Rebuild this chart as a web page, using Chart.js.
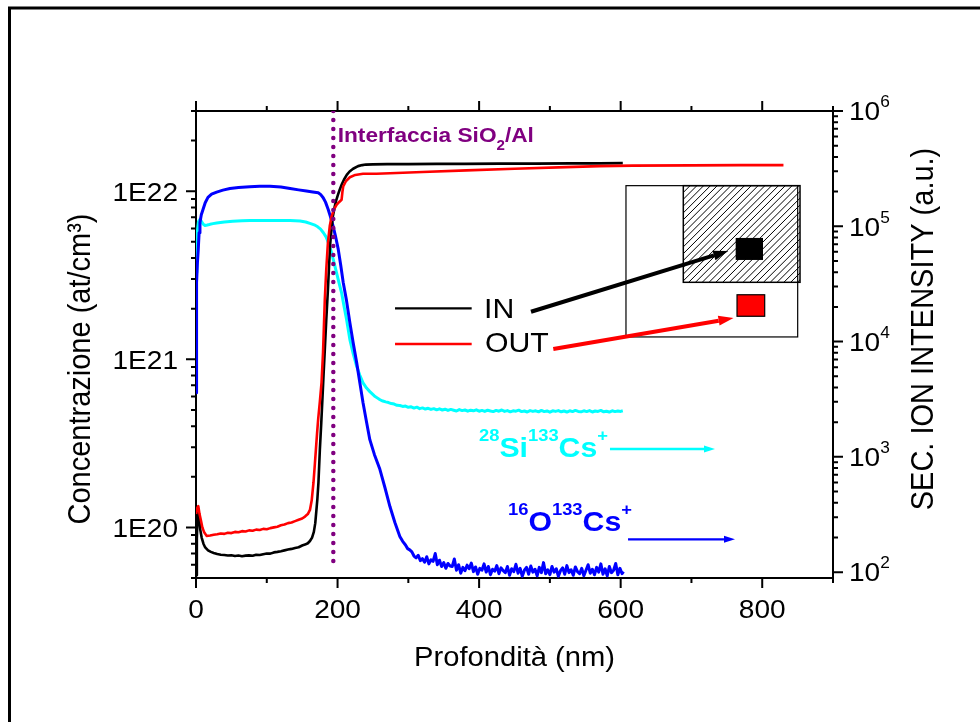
<!DOCTYPE html>
<html lang="it">
<head>
<meta charset="utf-8">
<title>Profilo SIMS – interfaccia SiO2/Al</title>
<script src="https://cdn.jsdelivr.net/npm/chart.js@4.4.1/dist/chart.umd.min.js"></script>
<style>
  html, body { margin: 0; padding: 0; background: #fff; overflow: hidden; }
  canvas { display: block; }
</style>
</head>
<body>
<canvas id="sims" width="980" height="722"></canvas>
<script>
// ---------- depth profiles ----------
// IN: concentration (at/cm3) vs depth (nm)
const inDepth = [
  0.3, 1.2, 2.2, 3.2, 4.5, 6, 8, 10.5, 13, 17,
  21, 25, 30, 35, 40, 45, 50, 55, 60, 65,
  70, 75, 80, 85, 90, 95, 100, 105, 110, 115,
  120, 125, 130, 135, 140, 145, 150, 154, 158, 161,
  164, 166.5, 168.5, 170, 171.5, 173, 175, 177, 178.6, 180.3,
  182, 184, 186.4, 188, 189.5, 191.5, 193.4, 196, 198, 200.5,
  203, 206, 209, 213, 217, 222, 229, 235, 240, 250,
  270, 300, 340, 380, 429, 480, 530, 570, 603];
const inConc = [
  5.2e19, 8.6e19, 1.16e20, 1.26e20, 1.12e20, 9.7e19, 8.7e19, 8.0e19, 7.6e19, 7.3e19,
  7.15e19, 7.05e19, 6.95e19, 6.88e19, 6.85e19, 6.8e19, 6.83e19, 6.76e19, 6.8e19, 6.74e19,
  6.79e19, 6.82e19, 6.78e19, 6.88e19, 6.85e19, 6.93e19, 7.0e19, 6.98e19, 7.1e19, 7.15e19,
  7.22e19, 7.3e19, 7.38e19, 7.45e19, 7.55e19, 7.62e19, 7.8e19, 7.9e19, 8.05e19, 8.3e19,
  8.7e19, 9.4e19, 1.06e20, 1.25e20, 1.48e20, 1.85e20, 2.9e20, 4.2e20, 5.8e20, 8.2e20,
  1.14e21, 1.7e21, 2.6e21, 3.6e21, 4.8e21, 6.0e21, 7.1e21, 8.1e21, 8.8e21, 9.5e21,
  1.02e22, 1.1e22, 1.17e22, 1.25e22, 1.31e22, 1.36e22, 1.41e22, 1.43e22, 1.44e22, 1.445e22,
  1.45e22, 1.45e22, 1.455e22, 1.455e22, 1.46e22, 1.46e22, 1.465e22, 1.465e22, 1.47e22];

// OUT: concentration (at/cm3) vs depth (nm)
const outDepth = [
  0.2, 1.5, 3.2, 5, 7, 9, 11.3, 15, 20, 25,
  30, 35, 40, 45, 50, 55, 60, 65, 70, 75,
  80, 85, 90, 95, 100, 105, 110, 115, 120, 125,
  130, 135, 140, 145, 150, 154, 158, 161, 163.5, 166,
  168, 169.4, 171, 172.6, 175, 177.4, 179.5, 182, 184, 186.4,
  189, 191.6, 195, 198.6, 202, 205.7, 207, 208, 212, 217.4,
  225, 236, 255, 274, 320, 382, 450, 523, 570, 617,
  700, 770, 830];
const outConc = [
  1.2e20, 1.3e20, 1.34e20, 1.2e20, 1.1e20, 1.0e20, 9.4e19, 8.9e19, 8.95e19, 9.05e19,
  9.1e19, 9.2e19, 9.15e19, 9.3e19, 9.25e19, 9.4e19, 9.35e19, 9.5e19, 9.45e19, 9.6e19,
  9.55e19, 9.7e19, 9.65e19, 9.8e19, 9.75e19, 9.9e19, 1.0e20, 1.01e20, 1.03e20, 1.04e20,
  1.06e20, 1.07e20, 1.09e20, 1.11e20, 1.13e20, 1.16e20, 1.2e20, 1.27e20, 1.45e20, 1.85e20,
  2.4e20, 2.9e20, 3.6e20, 4.4e20, 5.6e20, 7.3e20, 1.1e21, 2.27e21, 3.4e21, 4.95e21,
  6.2e21, 7.1e21, 7.8e21, 8.3e21, 8.6e21, 8.9e21, 1.0e22, 1.07e22, 1.15e22, 1.21e22,
  1.25e22, 1.27e22, 1.27e22, 1.28e22, 1.3e22, 1.33e22, 1.36e22, 1.39e22, 1.41e22, 1.42e22,
  1.425e22, 1.43e22, 1.43e22];

// 28Si133Cs+ secondary ion counts vs depth (nm)
const siDepth = [
  0.2, 0.8, 1.4, 2.3, 3.5, 5.6, 7, 8.5, 10.5, 12.7,
  16, 19.8, 24, 29.2, 40, 52, 65, 76, 90, 105,
  120, 133, 147, 155, 161, 167, 172, 176, 180, 184,
  187, 190.5, 194, 198.6, 202, 205.7, 209, 212.8, 217.4, 222,
  227, 231.5, 236, 241, 245.6, 252, 256, 260, 264, 268,
  272, 276, 280, 284, 288, 292, 296, 300, 304, 308,
  312, 316, 320, 324, 328, 332, 336, 340, 344, 348,
  352, 356, 360, 364, 368, 372, 376, 380, 384, 388,
  392, 396, 400, 404, 408, 412, 416, 420, 424, 428,
  432, 436, 440, 444, 448, 452, 456, 460, 464, 468,
  472, 476, 480, 484, 488, 492, 496, 500, 504, 508,
  512, 516, 520, 524, 528, 532, 536, 540, 544, 548,
  552, 556, 560, 564, 568, 572, 576, 580, 584, 588,
  592, 596, 600, 603];
const siCounts = [
  39700, 60000, 76900, 95000, 110000, 115000, 112000, 108000, 104000, 101600,
  102500, 104000, 105500, 107000, 109000, 110500, 111500, 112000, 112500, 112000,
  112500, 112000, 111000, 109000, 106000, 103000, 99000, 94500, 87900, 80500,
  71900, 62000, 51500, 39500, 32500, 26500, 20500, 15500, 10400, 7900,
  6100, 5100, 4380, 3950, 3680, 3380, 3250, 3130, 3050, 3000,
  2960, 2900, 2870, 2800, 2790, 2740, 2760, 2690, 2720, 2650,
  2700, 2620, 2660, 2600, 2640, 2580, 2620, 2560, 2610, 2550,
  2590, 2530, 2580, 2540, 2500, 2570, 2520, 2550, 2490, 2540,
  2510, 2560, 2490, 2530, 2480, 2540, 2500, 2470, 2530, 2490,
  2550, 2480, 2520, 2460, 2510, 2490, 2540, 2470, 2500, 2450,
  2520, 2480, 2510, 2460, 2530, 2470, 2500, 2440, 2510, 2480,
  2520, 2460, 2500, 2450, 2510, 2470, 2530, 2480, 2460, 2510,
  2470, 2520, 2450, 2500, 2480, 2530, 2460, 2490, 2450, 2510,
  2470, 2500, 2480, 2510];

// 16O133Cs+ secondary ion counts vs depth (nm)
const oDepth = [
  0.2, 0.6, 1, 2, 3.2, 4.4, 5.6, 7.5, 9.9, 13,
  16.9, 22, 29.2, 38, 48, 60, 76, 90, 104.5, 120,
  133, 145, 156, 165, 172.7, 176, 179.7, 183, 186.8, 190,
  193.8, 197.5, 201, 204.5, 208, 212.5, 217.4, 222, 227, 231.5,
  236, 241, 245.6, 252, 259.8, 267, 274, 281, 288, 292,
  296, 299, 302, 305, 308, 311, 314, 317, 320, 323,
  326, 329, 332, 335, 338, 341, 344, 347, 350, 353,
  356, 359, 362, 365, 368, 371, 374, 377, 380, 383,
  386, 389, 392, 395, 398, 401, 404, 407, 410, 413,
  416, 419, 422, 425, 428, 431, 434, 437, 440, 443,
  446, 449, 452, 455, 458, 461, 464, 467, 470, 473,
  476, 479, 482, 485, 488, 491, 494, 497, 500, 503,
  506, 509, 512, 515, 518, 521, 524, 527, 530, 533,
  536, 539, 542, 545, 548, 551, 554, 557, 560, 563,
  566, 569, 572, 575, 578, 581, 584, 587, 590, 593,
  596, 599, 602, 604];
const oCounts = [
  3600, 12000, 32500, 48000, 63000, 88000, 108000, 126000, 140000, 160000,
  178000, 190000, 198000, 206000, 213000, 217000, 220000, 222000, 223000, 219000,
  213000, 207000, 202000, 198000, 195000, 189000, 177000, 162000, 140000, 121000,
  100000, 80000, 63000, 46000, 32500, 23000, 14600, 9800, 6570, 4400,
  2950, 2000, 1410, 1050, 780, 540, 371, 270, 204, 185,
  172, 160, 156, 150, 138, 133, 140, 126, 131, 122,
  136, 118, 128, 124, 145, 116, 127, 112, 121, 108,
  119, 113, 112, 130, 104, 116, 98, 110, 103, 115,
  107, 120, 101, 111, 96, 108, 104, 118, 100, 112,
  95, 106, 102, 114, 97, 109, 103, 99, 112, 94,
  107, 101, 117, 98, 108, 92, 104, 110, 96, 113,
  100, 106, 93, 110, 99, 121, 97, 105, 95, 112,
  100, 107, 92, 103, 109, 96, 114, 99, 105, 94,
  111, 101, 97, 108, 93, 104, 116, 98, 106, 95,
  110, 100, 118, 96, 107, 93, 112, 99, 104, 119,
  95, 108, 97, 101];

// SiO2/Al interface marker (depth, concentration span)
const interfaceDepth = [194, 194];
const interfaceConc = [3e22, 5.7e19];

// ---------- axes ----------
const depthTicks = [0, 100, 200, 300, 400, 500, 600, 700, 800, 900];
const depthLabels = [0, 200, 400, 600, 800];
const concTicks = [
  5e19, 6e19, 7e19, 8e19, 9e19,
  1e20, 2e20, 3e20, 4e20, 5e20, 6e20, 7e20, 8e20, 9e20,
  1e21, 2e21, 3e21, 4e21, 5e21, 6e21, 7e21, 8e21, 9e21,
  1e22, 2e22, 3e22];
const concLabelValues = [1e20, 1e21, 1e22];
const concLabels = ['1E20', '1E21', '1E22'];
const ionTicks = [
  1e2, 2e2, 3e2, 4e2, 5e2, 6e2, 7e2, 8e2, 9e2,
  1e3, 2e3, 3e3, 4e3, 5e3, 6e3, 7e3, 8e3, 9e3,
  1e4, 2e4, 3e4, 4e4, 5e4, 6e4, 7e4, 8e4, 9e4,
  1e5, 2e5, 3e5, 4e5, 5e5, 6e5, 7e5, 8e5, 9e5, 1e6];
const ionLabelValues = [1e2, 1e3, 1e4, 1e5, 1e6];
const ionLabelExps = ['2', '3', '4', '5', '6'];

// ---------- drawing helpers ----------
const FAMILY = '"Liberation Sans", Arial, Helvetica, sans-serif';
const WIDEN = 1.08;   // glyphs of this figure run slightly wide

function setFont(ctx, size, bold) {
  ctx.font = (bold ? 'bold ' : '') + size + 'px ' + FAMILY;
}
function text(ctx, str, x, y, o) {
  ctx.save();
  setFont(ctx, o.size, o.bold);
  ctx.fillStyle = o.color || '#000';
  ctx.textAlign = o.align || 'left';
  ctx.textBaseline = 'alphabetic';
  ctx.translate(x, y);
  if (o.vertical) { ctx.rotate(-Math.PI / 2); ctx.scale(1, WIDEN); }
  else ctx.scale(WIDEN, 1);
  ctx.fillText(str, 0, 0);
  ctx.restore();
}
// runs of text with raised / lowered pieces
function richText(ctx, parts, x, y, color) {
  let cx = x;
  parts.forEach(p => {
    ctx.save();
    setFont(ctx, p.size, p.bold);
    ctx.fillStyle = color;
    ctx.textAlign = 'left';
    ctx.textBaseline = 'alphabetic';
    const w = ctx.measureText(p.t).width * WIDEN;
    ctx.translate(cx, y + (p.dy || 0));
    ctx.scale(WIDEN, 1);
    ctx.fillText(p.t, 0, 0);
    ctx.restore();
    cx += w;
  });
}
function arrow(ctx, x1, y1, x2, y2, color, width, headLen, headHalf) {
  const ang = Math.atan2(y2 - y1, x2 - x1);
  const bx = x2 - headLen * Math.cos(ang), by = y2 - headLen * Math.sin(ang);
  ctx.save();
  ctx.strokeStyle = color; ctx.fillStyle = color;
  ctx.lineWidth = width; ctx.lineCap = 'butt';
  ctx.beginPath(); ctx.moveTo(x1, y1); ctx.lineTo(bx, by); ctx.stroke();
  ctx.beginPath();
  ctx.moveTo(x2, y2);
  ctx.lineTo(bx + headHalf * Math.sin(ang), by - headHalf * Math.cos(ang));
  ctx.lineTo(bx - headHalf * Math.sin(ang), by + headHalf * Math.cos(ang));
  ctx.closePath(); ctx.fill();
  ctx.restore();
}

// annotation anchors: [depth nm, log10 concentration]
const notes = {
  interfaceText: [200.2, 22.294],
  legendLine: [281.2, 389.5],
  legendInY: 21.303, legendOutY: 21.091,
  legendInText: [406.9, 21.246], legendOutText: [408.3, 21.043],
  inArrow: [473.3, 21.283, 752.1, 21.644],
  outArrow: [504.8, 21.061, 759.4, 21.245],
  sample: [607.5, 22.033, 850.1, 21.133],
  hatched: [688.5, 22.033, 853.4, 21.458],
  inSpot: [762.5, 21.722, 801.1, 21.591],
  outSpot: [764.4, 21.384, 803.5, 21.256],
  siText: [399.8, 20.421], siArrow: [584.9, 733.3, 20.466],
  oText: [440.8, 19.980], oArrow: [610.4, 761.5, 19.929]
};

const decor = {
  id: 'decor',
  afterDraw(chart) {
    const c = chart.ctx, a = chart.chartArea, s = chart.scales;
    const X = v => s.x.getPixelForValue(v);
    const Y = lg => s.y.getPixelForValue(Math.pow(10, lg));
    c.save();

    // outer frame of the figure
    c.strokeStyle = '#000'; c.lineWidth = 3;
    c.strokeRect(9.5, 8, 2000, 2000);

    // tick marks, all pointing outwards
    c.lineWidth = 2; c.beginPath();
    s.x.ticks.forEach(t => {
      const px = X(t.value), L = depthLabels.includes(t.value) ? 10 : 5;
      c.moveTo(px, a.bottom); c.lineTo(px, a.bottom + L);
      c.moveTo(px, a.top); c.lineTo(px, a.top - L);
    });
    s.y.ticks.forEach(t => {
      const py = s.y.getPixelForValue(t.value), L = concLabelValues.includes(t.value) ? 10 : 5;
      c.moveTo(a.left, py); c.lineTo(a.left - L, py);
    });
    s.y2.ticks.forEach(t => {
      const py = s.y2.getPixelForValue(t.value), L = ionLabelValues.includes(t.value) ? 10 : 5;
      c.moveTo(a.right, py); c.lineTo(a.right + L, py);
    });
    c.stroke();

    // tick labels
    depthLabels.forEach(v => text(c, String(v), X(v), a.bottom + 40, {size: 26, align: 'center'}));
    concLabelValues.forEach((v, i) =>
      text(c, concLabels[i], a.left - 18, s.y.getPixelForValue(v) + 9.3, {size: 26, align: 'right'}));
    ionLabelValues.forEach((v, i) =>
      richText(c, [{t: '10', size: 26}, {t: ionLabelExps[i], size: 16, dy: -13}],
        a.right + 16, s.y2.getPixelForValue(v) + 9.3, '#000'));

    // axis titles
    text(c, 'Profondità (nm)', (a.left + a.right) / 2, a.bottom + 88, {size: 27, align: 'center'});
    text(c, 'Concentrazione (at/cm³)', 90, a.top + 258, {size: 29, align: 'center', vertical: true});
    text(c, 'SEC. ION INTENSITY (a.u.)', 933, a.top + 218, {size: 29, align: 'center', vertical: true});

    // interface label
    richText(c, [
      {t: 'Interfaccia SiO', size: 21, bold: true},
      {t: '2', size: 14, bold: true, dy: 8},
      {t: '/Al', size: 21, bold: true}
    ], X(notes.interfaceText[0]), Y(notes.interfaceText[1]), '#800080');

    // legend
    const lx0 = X(notes.legendLine[0]), lx1 = X(notes.legendLine[1]);
    c.lineWidth = 2.4;
    c.strokeStyle = '#000'; c.beginPath();
    c.moveTo(lx0, Y(notes.legendInY)); c.lineTo(lx1, Y(notes.legendInY)); c.stroke();
    c.strokeStyle = '#ff0000'; c.beginPath();
    c.moveTo(lx0, Y(notes.legendOutY)); c.lineTo(lx1, Y(notes.legendOutY)); c.stroke();
    text(c, 'IN', X(notes.legendInText[0]), Y(notes.legendInText[1]), {size: 28});
    text(c, 'OUT', X(notes.legendOutText[0]), Y(notes.legendOutText[1]), {size: 28});

    // sample sketch: outer area, hatched region and the two analysed spots
    const R = r => [X(r[0]), Y(r[1]), X(r[2]) - X(r[0]), Y(r[3]) - Y(r[1])];
    const [sx, sy, sw, sh] = R(notes.sample);
    c.lineWidth = 1.2; c.strokeStyle = '#000';
    c.strokeRect(sx, sy, sw, sh);
    const [hx, hy, hw, hh] = R(notes.hatched);
    c.save();
    c.beginPath(); c.rect(hx, hy, hw, hh); c.clip();
    c.lineWidth = 1; c.beginPath();
    for (let k = -hh; k < hw; k += 6.8) {
      c.moveTo(hx + k, hy + hh); c.lineTo(hx + k + hh, hy);
    }
    c.stroke();
    c.restore();
    c.lineWidth = 1.5; c.strokeRect(hx, hy, hw, hh);
    const [ix, iy, iw, ih] = R(notes.inSpot);
    c.fillStyle = '#000'; c.fillRect(ix, iy, iw, ih);
    const [ox, oy, ow, oh] = R(notes.outSpot);
    c.fillStyle = '#ff0000'; c.fillRect(ox, oy, ow, oh);
    c.lineWidth = 1.2; c.strokeRect(ox, oy, ow, oh);

    const ia = notes.inArrow, oa = notes.outArrow;
    arrow(c, X(ia[0]), Y(ia[1]), X(ia[2]), Y(ia[3]), '#000', 4, 15, 5);
    arrow(c, X(oa[0]), Y(oa[1]), X(oa[2]), Y(oa[3]), '#ff0000', 4, 15, 5);

    // species labels with arrows pointing to the right-hand axis
    richText(c, [
      {t: '28', size: 17, bold: true, dy: -16},
      {t: 'Si', size: 28, bold: true},
      {t: '133', size: 17, bold: true, dy: -16},
      {t: 'Cs', size: 28, bold: true},
      {t: '+', size: 17, bold: true, dy: -16}
    ], X(notes.siText[0]), Y(notes.siText[1]), '#00ffff');
    arrow(c, X(notes.siArrow[0]), Y(notes.siArrow[2]), X(notes.siArrow[1]), Y(notes.siArrow[2]), '#00ffff', 2.4, 11, 3.5);
    richText(c, [
      {t: '16', size: 17, bold: true, dy: -16},
      {t: 'O', size: 28, bold: true},
      {t: '133', size: 17, bold: true, dy: -16},
      {t: 'Cs', size: 28, bold: true},
      {t: '+', size: 17, bold: true, dy: -16}
    ], X(notes.oText[0]), Y(notes.oText[1]), '#0000ff');
    arrow(c, X(notes.oArrow[0]), Y(notes.oArrow[2]), X(notes.oArrow[1]), Y(notes.oArrow[2]), '#0000ff', 2.4, 11, 3.5);

    c.restore();
  }
};

const points = (xs, ys) => xs.map((x, i) => ({x, y: ys[i]}));

function axis(extra) {
  return Object.assign({
    grid: {drawOnChartArea: false, drawTicks: false},
    border: {display: true, color: '#000', width: 2},
    ticks: {display: false}
  }, extra);
}

new Chart(document.getElementById('sims'), {
  type: 'scatter',
  data: {
    datasets: [
      {label: 'Interfaccia SiO2/Al', data: points(interfaceDepth, interfaceConc), yAxisID: 'y',
       borderColor: '#800080', borderWidth: 4.5, borderDash: [0, 9], borderCapStyle: 'round'},
      {label: 'OUT', data: points(outDepth, outConc), yAxisID: 'y', borderColor: '#ff0000', borderWidth: 2.6},
      {label: 'IN', data: points(inDepth, inConc), yAxisID: 'y', borderColor: '#000000', borderWidth: 2.6},
      {label: '16O133Cs+', data: points(oDepth, oCounts), yAxisID: 'y2', borderColor: '#0000ff', borderWidth: 3},
      {label: '28Si133Cs+', data: points(siDepth, siCounts), yAxisID: 'y2', borderColor: '#00ffff', borderWidth: 3}
    ].map(d => Object.assign({showLine: true, pointRadius: 0, tension: 0, borderJoinStyle: 'round', fill: false}, d))
  },
  options: {
    responsive: false,
    animation: false,
    events: [],
    layout: {padding: 0},
    plugins: {legend: {display: false}, tooltip: {enabled: false}},
    scales: {
      x: axis({type: 'linear', position: 'bottom', min: 0, max: 900,
        afterBuildTicks: sc => { sc.ticks = depthTicks.map(v => ({value: v})); },
        afterFit: sc => { sc.height = 144; }}),
      x2: axis({type: 'linear', position: 'top', min: 0, max: 900,
        afterBuildTicks: sc => { sc.ticks = depthTicks.map(v => ({value: v})); },
        afterFit: sc => { sc.height = 111; }}),
      y: axis({type: 'logarithmic', position: 'left', min: 5e19, max: 3e22,
        afterBuildTicks: sc => { sc.ticks = concTicks.map(v => ({value: v})); },
        afterFit: sc => { sc.width = 196; }}),
      y2: axis({type: 'logarithmic', position: 'right', min: 89, max: 1e6,
        afterBuildTicks: sc => { sc.ticks = ionTicks.map(v => ({value: v})); },
        afterFit: sc => { sc.width = 147; }})
    }
  },
  plugins: [decor]
});
</script>
</body>
</html>
